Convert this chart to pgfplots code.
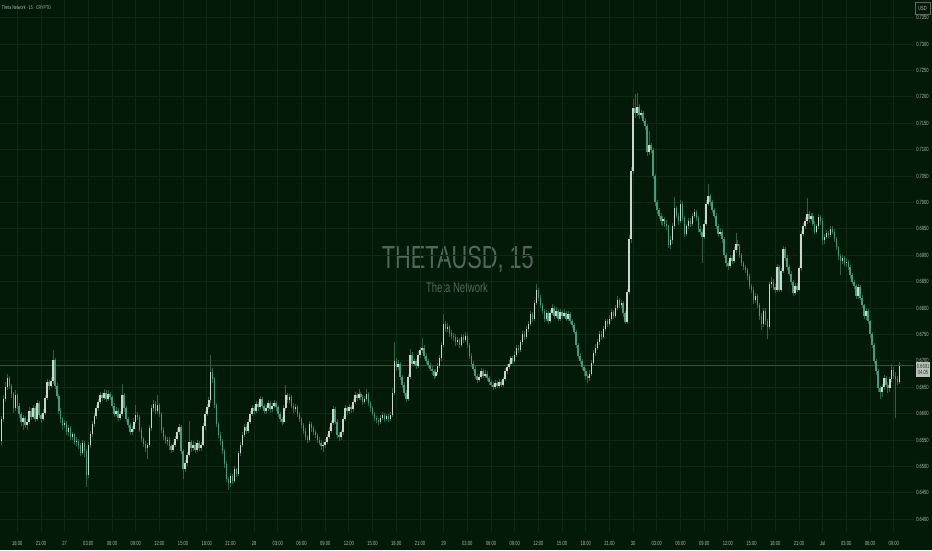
\documentclass[border=0pt]{standalone}
\usepackage{fontspec}
\setmainfont{Liberation Sans}
\newfontfamily\narrowfont[FakeStretch=0.68]{Liberation Sans}
\usepackage{pgfplots}
\usepackage{pgfplotstable}
\pgfplotsset{compat=1.18}

\definecolor{bgc}{RGB}{2,26,7}
\definecolor{gridc}{RGB}{14,42,18}
\definecolor{upc}{RGB}{205,214,205}
\definecolor{downc}{RGB}{66,158,122}
\definecolor{wickc}{RGB}{50,96,66}
\definecolor{tickc}{RGB}{176,184,176}
\definecolor{wmc}{RGB}{86,101,90}
\definecolor{pricec}{RGB}{58,80,60}
\definecolor{boxc}{RGB}{96,106,96}
\definecolor{pricelab}{RGB}{185,195,185}
\definecolor{pricetxt}{RGB}{35,55,40}

\newcommand\tickfont{\narrowfont\fontsize{4.5}{5}\selectfont}

% 15 min candles, t = bar index (0 = 26 Jun 18:00)
\pgfplotstableread{
t o h l c
-8 0.6548 0.6596 0.6540 0.6590
-7 0.6590 0.6635 0.6585 0.6628
-6 0.6628 0.6660 0.6622 0.6650
-5 0.6650 0.6676 0.6645 0.6668
-4 0.6668 0.6672 0.6646 0.6652
-3 0.6652 0.6656 0.6630 0.6638
-2 0.6638 0.6642 0.6602 0.6610
-1 0.6610 0.6645 0.6605 0.6636
0 0.6636 0.6640 0.6608 0.6615
1 0.6615 0.6620 0.6592 0.6600
2 0.6600 0.6604 0.6576 0.6585
3 0.6585 0.6598 0.6570 0.6592
4 0.6592 0.6596 0.6572 0.6578
5 0.6578 0.6590 0.6570 0.6584
6 0.6584 0.6612 0.6580 0.6606
7 0.6606 0.6610 0.6588 0.6594
8 0.6594 0.6616 0.6590 0.6610
9 0.6610 0.6614 0.6585 0.6590
10 0.6590 0.6626 0.6586 0.6620
11 0.6620 0.6624 0.6592 0.6598
12 0.6598 0.6602 0.6582 0.6590
13 0.6590 0.6608 0.6586 0.6602
14 0.6602 0.6636 0.6598 0.6630
15 0.6630 0.6666 0.6626 0.6660
16 0.6660 0.6664 0.6645 0.6652
17 0.6652 0.6670 0.6648 0.6662
18 0.6662 0.6720 0.6656 0.6702
19 0.6702 0.6706 0.6646 0.6652
20 0.6652 0.6658 0.6628 0.6634
21 0.6634 0.6638 0.6600 0.6606
22 0.6606 0.6610 0.6582 0.6590
23 0.6590 0.6594 0.6570 0.6578
24 0.6578 0.6588 0.6572 0.6582
25 0.6582 0.6586 0.6560 0.6566
26 0.6566 0.6578 0.6558 0.6572
27 0.6572 0.6576 0.6550 0.6556
28 0.6556 0.6566 0.6550 0.6561
29 0.6561 0.6564 0.6540 0.6546
30 0.6546 0.6556 0.6538 0.6549
31 0.6549 0.6552 0.6534 0.6540
32 0.6540 0.6544 0.6520 0.6526
33 0.6526 0.6550 0.6522 0.6545
34 0.6545 0.6548 0.6518 0.6530
35 0.6530 0.6534 0.6462 0.6484
36 0.6484 0.6546 0.6478 0.6540
37 0.6540 0.6568 0.6535 0.6562
38 0.6562 0.6586 0.6556 0.6580
39 0.6580 0.6602 0.6575 0.6596
40 0.6596 0.6616 0.6590 0.6610
41 0.6610 0.6628 0.6605 0.6622
42 0.6622 0.6642 0.6618 0.6636
43 0.6636 0.6640 0.6624 0.6630
44 0.6630 0.6646 0.6626 0.6640
45 0.6640 0.6644 0.6622 0.6628
46 0.6628 0.6644 0.6624 0.6638
47 0.6638 0.6642 0.6626 0.6632
48 0.6632 0.6636 0.6610 0.6615
49 0.6615 0.6620 0.6594 0.6600
50 0.6600 0.6612 0.6596 0.6606
51 0.6606 0.6610 0.6586 0.6592
52 0.6592 0.6606 0.6588 0.6600
53 0.6600 0.6656 0.6596 0.6635
54 0.6635 0.6640 0.6604 0.6610
55 0.6610 0.6614 0.6584 0.6590
56 0.6590 0.6594 0.6572 0.6578
57 0.6578 0.6582 0.6560 0.6565
58 0.6565 0.6577 0.6560 0.6571
59 0.6571 0.6592 0.6566 0.6585
60 0.6585 0.6616 0.6580 0.6598
61 0.6598 0.6604 0.6588 0.6594
62 0.6594 0.6598 0.6565 0.6570
63 0.6570 0.6574 0.6546 0.6552
64 0.6552 0.6556 0.6536 0.6542
65 0.6542 0.6548 0.6528 0.6535
66 0.6535 0.6545 0.6514 0.6540
67 0.6540 0.6578 0.6536 0.6572
68 0.6572 0.6616 0.6568 0.6610
69 0.6610 0.6626 0.6604 0.6618
70 0.6618 0.6624 0.6600 0.6605
71 0.6605 0.6636 0.6600 0.6616
72 0.6616 0.6620 0.6594 0.6600
73 0.6600 0.6604 0.6564 0.6570
74 0.6570 0.6574 0.6550 0.6555
75 0.6555 0.6560 0.6542 0.6548
76 0.6548 0.6556 0.6540 0.6551
77 0.6551 0.6556 0.6532 0.6538
78 0.6538 0.6542 0.6526 0.6532
79 0.6532 0.6546 0.6528 0.6541
80 0.6541 0.6558 0.6536 0.6552
81 0.6552 0.6572 0.6548 0.6566
82 0.6566 0.6580 0.6560 0.6575
83 0.6575 0.6578 0.6524 0.6530
84 0.6530 0.6534 0.6476 0.6495
85 0.6495 0.6512 0.6490 0.6506
86 0.6506 0.6528 0.6500 0.6522
87 0.6522 0.6586 0.6518 0.6546
88 0.6546 0.6550 0.6528 0.6535
89 0.6535 0.6548 0.6530 0.6541
90 0.6541 0.6546 0.6526 0.6532
91 0.6532 0.6550 0.6528 0.6545
92 0.6545 0.6548 0.6530 0.6535
93 0.6535 0.6546 0.6530 0.6541
94 0.6541 0.6582 0.6538 0.6576
95 0.6576 0.6606 0.6570 0.6600
96 0.6600 0.6618 0.6596 0.6612
97 0.6612 0.6632 0.6608 0.6625
98 0.6625 0.6712 0.6620 0.6678
99 0.6678 0.6686 0.6658 0.6665
100 0.6665 0.6670 0.6610 0.6616
101 0.6616 0.6620 0.6574 0.6580
102 0.6580 0.6584 0.6554 0.6560
103 0.6560 0.6566 0.6540 0.6548
104 0.6548 0.6552 0.6524 0.6530
105 0.6530 0.6534 0.6498 0.6505
106 0.6505 0.6510 0.6470 0.6476
107 0.6476 0.6480 0.6456 0.6468
108 0.6468 0.6488 0.6462 0.6482
109 0.6482 0.6486 0.6466 0.6472
110 0.6472 0.6500 0.6468 0.6495
111 0.6495 0.6498 0.6480 0.6486
112 0.6486 0.6530 0.6482 0.6525
113 0.6525 0.6546 0.6520 0.6540
114 0.6540 0.6566 0.6536 0.6560
115 0.6560 0.6580 0.6555 0.6575
116 0.6575 0.6580 0.6562 0.6568
117 0.6568 0.6590 0.6564 0.6585
118 0.6585 0.6606 0.6580 0.6600
119 0.6600 0.6616 0.6596 0.6610
120 0.6610 0.6614 0.6600 0.6605
121 0.6605 0.6624 0.6602 0.6618
122 0.6618 0.6622 0.6606 0.6612
123 0.6612 0.6634 0.6608 0.6628
124 0.6628 0.6632 0.6610 0.6615
125 0.6615 0.6618 0.6600 0.6605
126 0.6605 0.6616 0.6600 0.6610
127 0.6610 0.6626 0.6606 0.6620
128 0.6620 0.6624 0.6602 0.6608
129 0.6608 0.6620 0.6604 0.6615
130 0.6615 0.6626 0.6610 0.6620
131 0.6620 0.6624 0.6606 0.6612
132 0.6612 0.6616 0.6594 0.6600
133 0.6600 0.6604 0.6584 0.6590
134 0.6590 0.6594 0.6578 0.6585
135 0.6585 0.6616 0.6580 0.6610
136 0.6610 0.6655 0.6606 0.6636
137 0.6636 0.6640 0.6620 0.6625
138 0.6625 0.6638 0.6620 0.6632
139 0.6632 0.6636 0.6610 0.6615
140 0.6615 0.6620 0.6602 0.6608
141 0.6608 0.6618 0.6604 0.6612
142 0.6612 0.6616 0.6594 0.6600
143 0.6600 0.6604 0.6585 0.6590
144 0.6590 0.6594 0.6572 0.6578
145 0.6578 0.6582 0.6562 0.6568
146 0.6568 0.6572 0.6550 0.6555
147 0.6555 0.6560 0.6544 0.6550
148 0.6550 0.6586 0.6546 0.6580
149 0.6580 0.6584 0.6566 0.6572
150 0.6572 0.6576 0.6560 0.6565
151 0.6565 0.6570 0.6554 0.6560
152 0.6560 0.6564 0.6544 0.6550
153 0.6550 0.6555 0.6540 0.6545
154 0.6545 0.6550 0.6532 0.6538
155 0.6538 0.6546 0.6528 0.6540
156 0.6540 0.6552 0.6535 0.6546
157 0.6546 0.6562 0.6542 0.6556
158 0.6556 0.6574 0.6552 0.6568
159 0.6568 0.6588 0.6564 0.6582
160 0.6582 0.6614 0.6578 0.6608
161 0.6608 0.6612 0.6580 0.6585
162 0.6585 0.6590 0.6554 0.6560
163 0.6560 0.6566 0.6548 0.6555
164 0.6555 0.6570 0.6550 0.6565
165 0.6565 0.6596 0.6560 0.6590
166 0.6590 0.6616 0.6586 0.6610
167 0.6610 0.6614 0.6598 0.6605
168 0.6605 0.6618 0.6600 0.6612
169 0.6612 0.6616 0.6602 0.6608
170 0.6608 0.6628 0.6604 0.6622
171 0.6622 0.6642 0.6618 0.6635
172 0.6635 0.6640 0.6624 0.6630
173 0.6630 0.6646 0.6626 0.6638
174 0.6638 0.6642 0.6626 0.6632
175 0.6632 0.6636 0.6616 0.6622
176 0.6622 0.6634 0.6618 0.6628
177 0.6628 0.6646 0.6624 0.6638
178 0.6638 0.6642 0.6614 0.6620
179 0.6620 0.6624 0.6604 0.6610
180 0.6610 0.6614 0.6595 0.6600
181 0.6600 0.6604 0.6586 0.6592
182 0.6592 0.6596 0.6582 0.6588
183 0.6588 0.6592 0.6578 0.6585
184 0.6585 0.6598 0.6580 0.6592
185 0.6592 0.6604 0.6588 0.6598
186 0.6598 0.6602 0.6585 0.6590
187 0.6590 0.6600 0.6586 0.6595
188 0.6595 0.6600 0.6584 0.6590
189 0.6590 0.6604 0.6586 0.6598
190 0.6598 0.6648 0.6594 0.6640
191 0.6640 0.6735 0.6636 0.6700
192 0.6700 0.6706 0.6680 0.6688
193 0.6688 0.6702 0.6682 0.6695
194 0.6695 0.6698 0.6664 0.6670
195 0.6670 0.6674 0.6648 0.6655
196 0.6655 0.6660 0.6634 0.6640
197 0.6640 0.6645 0.6622 0.6628
198 0.6628 0.6676 0.6624 0.6670
199 0.6670 0.6722 0.6666 0.6712
200 0.6712 0.6716 0.6690 0.6695
201 0.6695 0.6706 0.6690 0.6700
202 0.6700 0.6704 0.6684 0.6690
203 0.6690 0.6718 0.6686 0.6712
204 0.6712 0.6726 0.6706 0.6720
205 0.6720 0.6743 0.6715 0.6725
206 0.6725 0.6730 0.6704 0.6710
207 0.6710 0.6714 0.6694 0.6700
208 0.6700 0.6704 0.6686 0.6692
209 0.6692 0.6696 0.6680 0.6685
210 0.6685 0.6690 0.6674 0.6680
211 0.6680 0.6684 0.6666 0.6672
212 0.6672 0.6684 0.6668 0.6678
213 0.6678 0.6696 0.6674 0.6690
214 0.6690 0.6712 0.6686 0.6705
215 0.6705 0.6736 0.6700 0.6730
216 0.6730 0.6788 0.6726 0.6770
217 0.6770 0.6776 0.6754 0.6760
218 0.6760 0.6772 0.6755 0.6765
219 0.6765 0.6768 0.6746 0.6752
220 0.6752 0.6758 0.6742 0.6748
221 0.6748 0.6752 0.6738 0.6745
222 0.6745 0.6750 0.6728 0.6735
223 0.6735 0.6746 0.6730 0.6740
224 0.6740 0.6744 0.6724 0.6730
225 0.6730 0.6750 0.6726 0.6745
226 0.6745 0.6750 0.6734 0.6740
227 0.6740 0.6755 0.6736 0.6748
228 0.6748 0.6752 0.6724 0.6730
229 0.6730 0.6734 0.6704 0.6710
230 0.6710 0.6714 0.6688 0.6695
231 0.6695 0.6700 0.6680 0.6685
232 0.6685 0.6690 0.6666 0.6672
233 0.6672 0.6676 0.6658 0.6664
234 0.6664 0.6676 0.6660 0.6670
235 0.6670 0.6686 0.6666 0.6680
236 0.6680 0.6684 0.6668 0.6672
237 0.6672 0.6682 0.6668 0.6676
238 0.6676 0.6680 0.6662 0.6668
239 0.6668 0.6672 0.6654 0.6660
240 0.6660 0.6664 0.6650 0.6655
241 0.6655 0.6660 0.6645 0.6650
242 0.6650 0.6664 0.6646 0.6658
243 0.6658 0.6662 0.6648 0.6652
244 0.6652 0.6665 0.6648 0.6660
245 0.6660 0.6664 0.6650 0.6654
246 0.6654 0.6670 0.6650 0.6665
247 0.6665 0.6686 0.6662 0.6680
248 0.6680 0.6694 0.6676 0.6688
249 0.6688 0.6702 0.6684 0.6695
250 0.6695 0.6710 0.6690 0.6705
251 0.6705 0.6710 0.6694 0.6700
252 0.6700 0.6718 0.6696 0.6712
253 0.6712 0.6730 0.6708 0.6725
254 0.6725 0.6730 0.6714 0.6720
255 0.6720 0.6740 0.6716 0.6735
256 0.6735 0.6756 0.6730 0.6750
257 0.6750 0.6756 0.6740 0.6745
258 0.6745 0.6766 0.6742 0.6760
259 0.6760 0.6776 0.6755 0.6770
260 0.6770 0.6794 0.6766 0.6788
261 0.6788 0.6792 0.6774 0.6780
262 0.6780 0.6816 0.6776 0.6810
263 0.6810 0.6845 0.6806 0.6835
264 0.6835 0.6838 0.6814 0.6820
265 0.6820 0.6824 0.6800 0.6805
266 0.6805 0.6810 0.6790 0.6795
267 0.6795 0.6798 0.6774 0.6780
268 0.6780 0.6796 0.6776 0.6790
269 0.6790 0.6794 0.6770 0.6775
270 0.6775 0.6796 0.6772 0.6790
271 0.6790 0.6808 0.6786 0.6800
272 0.6800 0.6804 0.6780 0.6785
273 0.6785 0.6802 0.6782 0.6795
274 0.6795 0.6798 0.6776 0.6780
275 0.6780 0.6798 0.6776 0.6792
276 0.6792 0.6796 0.6780 0.6785
277 0.6785 0.6798 0.6782 0.6790
278 0.6790 0.6794 0.6776 0.6780
279 0.6780 0.6794 0.6776 0.6788
280 0.6788 0.6792 0.6770 0.6775
281 0.6775 0.6780 0.6762 0.6768
282 0.6768 0.6772 0.6750 0.6755
283 0.6755 0.6758 0.6724 0.6730
284 0.6730 0.6734 0.6704 0.6710
285 0.6710 0.6714 0.6694 0.6700
286 0.6700 0.6704 0.6682 0.6688
287 0.6688 0.6692 0.6672 0.6680
288 0.6680 0.6686 0.6664 0.6672
289 0.6672 0.6676 0.6658 0.6668
290 0.6668 0.6682 0.6662 0.6676
291 0.6676 0.6702 0.6672 0.6696
292 0.6696 0.6720 0.6692 0.6715
293 0.6715 0.6732 0.6710 0.6725
294 0.6725 0.6742 0.6720 0.6736
295 0.6736 0.6756 0.6730 0.6750
296 0.6750 0.6756 0.6740 0.6745
297 0.6745 0.6766 0.6742 0.6760
298 0.6760 0.6780 0.6756 0.6775
299 0.6775 0.6780 0.6764 0.6770
300 0.6770 0.6786 0.6766 0.6780
301 0.6780 0.6798 0.6776 0.6792
302 0.6792 0.6796 0.6780 0.6785
303 0.6785 0.6806 0.6782 0.6800
304 0.6800 0.6822 0.6796 0.6815
305 0.6815 0.6820 0.6800 0.6805
306 0.6805 0.6816 0.6800 0.6810
307 0.6810 0.6814 0.6784 0.6790
308 0.6790 0.6794 0.6770 0.6774
309 0.6774 0.6836 0.6770 0.6830
310 0.6830 0.6938 0.6826 0.6930
311 0.6930 0.7068 0.6924 0.7060
312 0.7060 0.7196 0.7054 0.7178
313 0.7178 0.7205 0.7160 0.7170
314 0.7170 0.7208 0.7164 0.7180
315 0.7180 0.7186 0.7158 0.7165
316 0.7165 0.7176 0.7160 0.7170
317 0.7170 0.7174 0.7150 0.7155
318 0.7155 0.7160 0.7138 0.7145
319 0.7145 0.7148 0.7088 0.7095
320 0.7095 0.7135 0.7090 0.7108
321 0.7108 0.7112 0.7094 0.7100
322 0.7100 0.7104 0.7044 0.7050
323 0.7050 0.7054 0.6994 0.7000
324 0.7000 0.7004 0.6978 0.6985
325 0.6985 0.6990 0.6968 0.6975
326 0.6975 0.6980 0.6958 0.6965
327 0.6965 0.6974 0.6956 0.6968
328 0.6968 0.6972 0.6954 0.6960
329 0.6960 0.6966 0.6948 0.6955
330 0.6955 0.6958 0.6914 0.6920
331 0.6920 0.6936 0.6912 0.6928
332 0.6928 0.6962 0.6922 0.6955
333 0.6955 0.7010 0.6950 0.6990
334 0.6990 0.6994 0.6970 0.6975
335 0.6975 0.6980 0.6958 0.6965
336 0.6965 0.7004 0.6962 0.6998
337 0.6998 0.7002 0.6964 0.6970
338 0.6970 0.6974 0.6934 0.6940
339 0.6940 0.6960 0.6936 0.6955
340 0.6955 0.6970 0.6950 0.6965
341 0.6965 0.6970 0.6954 0.6960
342 0.6960 0.6980 0.6956 0.6975
343 0.6975 0.6988 0.6970 0.6982
344 0.6982 0.6986 0.6964 0.6970
345 0.6970 0.6974 0.6944 0.6950
346 0.6950 0.6956 0.6938 0.6945
347 0.6945 0.6950 0.6885 0.6935
348 0.6935 0.6966 0.6930 0.6960
349 0.6960 0.7004 0.6955 0.6998
350 0.6998 0.7035 0.6994 0.7012
351 0.7012 0.7016 0.6994 0.7000
352 0.7000 0.7004 0.6980 0.6985
353 0.6985 0.6990 0.6970 0.6975
354 0.6975 0.6980 0.6950 0.6955
355 0.6955 0.6960 0.6934 0.6940
356 0.6940 0.6952 0.6936 0.6945
357 0.6945 0.6950 0.6924 0.6930
358 0.6930 0.6934 0.6894 0.6900
359 0.6900 0.6904 0.6878 0.6885
360 0.6885 0.6890 0.6872 0.6880
361 0.6880 0.6900 0.6876 0.6895
362 0.6895 0.6900 0.6884 0.6890
363 0.6890 0.6916 0.6886 0.6910
364 0.6910 0.6942 0.6905 0.6922
365 0.6922 0.6928 0.6910 0.6918
366 0.6918 0.6922 0.6894 0.6900
367 0.6900 0.6904 0.6880 0.6885
368 0.6885 0.6890 0.6872 0.6878
369 0.6878 0.6882 0.6866 0.6872
370 0.6872 0.6876 0.6854 0.6860
371 0.6860 0.6864 0.6836 0.6842
372 0.6842 0.6846 0.6828 0.6835
373 0.6835 0.6840 0.6808 0.6815
374 0.6815 0.6828 0.6810 0.6822
375 0.6822 0.6826 0.6800 0.6805
376 0.6805 0.6810 0.6778 0.6785
377 0.6785 0.6790 0.6758 0.6770
378 0.6770 0.6800 0.6765 0.6795
379 0.6795 0.6800 0.6768 0.6775
380 0.6775 0.6780 0.6742 0.6765
381 0.6765 0.6850 0.6760 0.6845
382 0.6845 0.6858 0.6838 0.6850
383 0.6850 0.6856 0.6834 0.6840
384 0.6840 0.6846 0.6828 0.6835
385 0.6835 0.6884 0.6830 0.6878
386 0.6878 0.6882 0.6830 0.6835
387 0.6835 0.6876 0.6830 0.6870
388 0.6870 0.6918 0.6866 0.6912
389 0.6912 0.6916 0.6890 0.6895
390 0.6895 0.6900 0.6872 0.6878
391 0.6878 0.6882 0.6860 0.6865
392 0.6865 0.6870 0.6844 0.6850
393 0.6850 0.6854 0.6822 0.6828
394 0.6828 0.6848 0.6824 0.6842
395 0.6842 0.6848 0.6830 0.6835
396 0.6835 0.6880 0.6832 0.6875
397 0.6875 0.6946 0.6870 0.6940
398 0.6940 0.6962 0.6936 0.6955
399 0.6955 0.6972 0.6950 0.6965
400 0.6965 0.7008 0.6960 0.6978
401 0.6978 0.6984 0.6962 0.6968
402 0.6968 0.6980 0.6964 0.6975
403 0.6975 0.6980 0.6955 0.6960
404 0.6960 0.6964 0.6940 0.6945
405 0.6945 0.6960 0.6940 0.6955
406 0.6955 0.6978 0.6950 0.6972
407 0.6972 0.6976 0.6958 0.6965
408 0.6965 0.6970 0.6920 0.6928
409 0.6928 0.6940 0.6922 0.6935
410 0.6935 0.6948 0.6930 0.6942
411 0.6942 0.6946 0.6932 0.6938
412 0.6938 0.6956 0.6934 0.6950
413 0.6950 0.6956 0.6940 0.6945
414 0.6945 0.6950 0.6925 0.6930
415 0.6930 0.6934 0.6910 0.6915
416 0.6915 0.6918 0.6892 0.6898
417 0.6898 0.6902 0.6862 0.6890
418 0.6890 0.6900 0.6884 0.6895
419 0.6895 0.6898 0.6880 0.6885
420 0.6885 0.6894 0.6878 0.6888
421 0.6888 0.6892 0.6872 0.6878
422 0.6878 0.6882 0.6856 0.6862
423 0.6862 0.6866 0.6845 0.6850
424 0.6850 0.6854 0.6836 0.6842
425 0.6842 0.6846 0.6818 0.6822
426 0.6822 0.6846 0.6818 0.6840
427 0.6840 0.6844 0.6815 0.6820
428 0.6820 0.6824 0.6800 0.6805
429 0.6805 0.6808 0.6780 0.6785
430 0.6785 0.6800 0.6778 0.6795
431 0.6795 0.6798 0.6770 0.6775
432 0.6775 0.6778 0.6744 0.6750
433 0.6750 0.6754 0.6724 0.6730
434 0.6730 0.6734 0.6694 0.6700
435 0.6700 0.6704 0.6674 0.6680
436 0.6680 0.6684 0.6642 0.6648
437 0.6648 0.6652 0.6628 0.6642
438 0.6642 0.6656 0.6632 0.6650
439 0.6650 0.6674 0.6644 0.6668
440 0.6668 0.6672 0.6650 0.6655
441 0.6655 0.6660 0.6640 0.6648
442 0.6648 0.6670 0.6642 0.6665
443 0.6665 0.6695 0.6660 0.6682
444 0.6682 0.6688 0.6666 0.6672
445 0.6672 0.6678 0.6592 0.6665
446 0.6665 0.6672 0.6654 0.6660
447 0.6660 0.6697 0.6656 0.6691
}\candles

\begin{document}
\begin{tikzpicture}
\fill[bgc] (0,0) rectangle (699pt,412.5pt);
\path[use as bounding box] (0,0) rectangle (699pt,412.5pt);
% watermark
\node[anchor=base, inner sep=0pt, text=wmc, font=\narrowfont\fontsize{24}{24}\selectfont] at (343.4pt,211.3pt) {THETAUSD, 15};
\node[anchor=base, inner sep=0pt, text=wmc, font=\narrowfont\fontsize{10.5}{12}\selectfont] at (342.8pt,193pt) {Theta Network};

\begin{axis}[
    at={(0pt,13.5pt)}, anchor=south west,
    scale only axis, width=685.5pt, height=399pt,
    xmin=-8.76, xmax=454.3,
    ymin=0.63759, ymax=0.73835,
    axis line style={draw=none},
    major tick length=0pt,
    grid=major,
    major grid style={draw=gridc, line width=0.6pt},
    xtick={0,12,...,444},
    xticklabels={18:00,21:00,27,03:00,06:00,09:00,12:00,15:00,18:00,21:00,28,03:00,06:00,09:00,12:00,15:00,18:00,21:00,29,03:00,06:00,09:00,12:00,15:00,18:00,21:00,30,03:00,06:00,09:00,12:00,15:00,18:00,21:00,Jul,03:00,06:00,09:00},
    ytick={0.64,0.645,0.65,0.655,0.66,0.665,0.67,0.675,0.68,0.685,0.69,0.695,0.7,0.705,0.71,0.715,0.72,0.725,0.73,0.735},
    yticklabel pos=right,
    yticklabel style={/pgf/number format/fixed, /pgf/number format/fixed zerofill, /pgf/number format/precision=4, /pgf/number format/assume math mode=true},
    yticklabel style={anchor=west, inner sep=0pt, xshift=1.5pt, font=\tickfont, text=tickc},
    xticklabel style={anchor=center, inner sep=0pt, yshift=-8.25pt, font=\tickfont, text=tickc},
]
% last price line
\addplot[pricec, line width=0.55pt, forget plot] coordinates {(-9,0.6691) (455,0.6691)};
% wicks
\addplot[draw=none, mark=none, forget plot,
    error bars/.cd, y dir=plus, y explicit, error mark=none,
    error bar style={draw=wickc, line width=0.4pt}]
    table[x=t, y=l, y error plus expr={\thisrow{h}-\thisrow{l}}] {\candles};
% rising bodies
\addplot[draw=none, mark=none, forget plot,
    restrict expr to domain={\thisrow{c}-\thisrow{o}}{0:1},
    error bars/.cd, y dir=plus, y explicit, error mark=none,
    error bar style={draw=upc, line width=1.15pt}]
    table[x=t, y=o, y error plus expr={\thisrow{c}-\thisrow{o}}] {\candles};
% falling bodies
\addplot[draw=none, mark=none, forget plot,
    restrict expr to domain={\thisrow{c}-\thisrow{o}}{-1:-0.00001},
    error bars/.cd, y dir=plus, y explicit, error mark=none,
    error bar style={draw=downc, line width=1.15pt}]
    table[x=t, y=c, y error plus expr={\thisrow{o}-\thisrow{c}}] {\candles};
\end{axis}

% header and price scale labels
\node[anchor=base west, inner sep=0pt, text=tickc, font=\narrowfont\fontsize{4}{5}\selectfont] at (1.3pt,405.5pt) {Theta Network · 15 · CRYPTO};
\node[draw=boxc, fill=bgc, line width=0.4pt, inner sep=0pt, minimum width=11pt, minimum height=8.5pt, text=tickc, font=\tickfont] at (691.9pt,406.2pt) {USD};
\node[fill=pricelab, text=pricetxt, inner sep=0.5pt, align=center, minimum width=10.5pt, minimum height=11pt, font=\tickfont] at (692.3pt,135.4pt) {0.6691\\04:05};
\end{tikzpicture}
\end{document}
